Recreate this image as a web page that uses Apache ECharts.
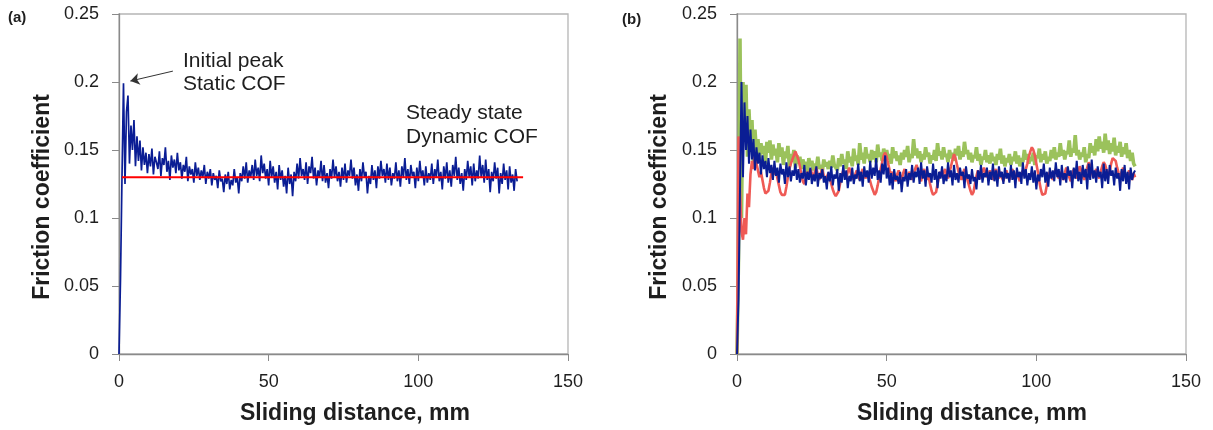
<!DOCTYPE html>
<html>
<head>
<meta charset="utf-8">
<script src="https://cdn.jsdelivr.net/npm/echarts@6/dist/echarts.min.js"></script>
<style>html,body{margin:0;padding:0;background:#fff}#c{width:1213px;height:430px}</style>
</head>
<body>
<div id="c"></div>
<script>
// Sliding distance (mm) for every sample
const distanceMm = [
0,0.5,1,1.5,2,2.5,3,3.5,4,4.5,5,5.5,6,6.5,7,7.5,8,8.5,9,9.5,10,
10.5,11,11.5,12,12.5,13,13.5,14,14.5,15,15.5,16,16.5,17,17.5,18,18.5,19,19.5,20,
20.5,21,21.5,22,22.5,23,23.5,24,24.5,25,25.5,26,26.5,27,27.5,28,28.5,29,29.5,30,
30.5,31,31.5,32,32.5,33,33.5,34,34.5,35,35.5,36,36.5,37,37.5,38,38.5,39,39.5,40,40.5,41,41.5,42,42.5,43,43.5,44,44.5,45,
45.5,46,46.5,47,47.5,48,48.5,49,49.5,50,50.5,51,51.5,52,52.5,53,53.5,54,54.5,55,55.5,56,56.5,57,57.5,58,58.5,59,59.5,60,
60.5,61,61.5,62,62.5,63,63.5,64,64.5,65,65.5,66,66.5,67,67.5,68,68.5,69,69.5,70,70.5,71,71.5,72,72.5,73,73.5,74,74.5,75,
75.5,76,76.5,77,77.5,78,78.5,79,79.5,80,80.5,81,81.5,82,82.5,83,83.5,84,84.5,85,85.5,86,86.5,87,87.5,88,88.5,89,89.5,90,
90.5,91,91.5,92,92.5,93,93.5,94,94.5,95,95.5,96,96.5,97,97.5,98,98.5,99,99.5,100,100.5,101,101.5,102,102.5,103,103.5,104,104.5,105,
105.5,106,106.5,107,107.5,108,108.5,109,109.5,110,110.5,111,111.5,112,112.5,113,113.5,114,114.5,115,115.5,116,116.5,117,117.5,118,118.5,119,119.5,120,
120.5,121,121.5,122,122.5,123,123.5,124,124.5,125,125.5,126,126.5,127,127.5,128,128.5,129,129.5,130,130.5,131,131.5,132,132.5,133
];

// (a) friction coefficient
const cofA = [
0,.055,.13,.199,.125,.178,.19,.14,.168,.15,.172,.138,.16,.142,.157,.135,.152,.139,.148,.133,.147,
.138,.151,.132,.145,.141,.136,.149,.131,.144,.139,.152,.134,.142,.128,.146,.137,.143,.133,.148,.135,
.141,.129,.139,.134,.145,.127,.138,.132,.136,.126,.141,.131,.137,.128,.135,.13,.139,.125,.134,.129,
.136,.124,.133,.128,.131,.122,.135,.127,.129,.119,.132,.125,.134,.121,.128,.124,.136,.126,.13,.118,.133,.127,.138,.129,.141,.126,.135,.13,.139,.128,
.143,.131,.137,.127,.146,.133,.14,.129,.136,.124,.142,.13,.138,.126,.134,.121,.139,.128,.135,.123,.131,.118,.137,.125,.132,.116,.134,.127,.14,.129,
.144,.131,.136,.128,.141,.125,.138,.133,.145,.129,.137,.124,.135,.13,.142,.127,.139,.126,.133,.122,.136,.129,.143,.13,.138,.127,.134,.123,.137,.128,
.14,.126,.135,.131,.143,.129,.137,.124,.132,.12,.136,.127,.141,.13,.134,.118,.131,.125,.139,.128,.135,.122,.138,.129,.142,.131,.136,.126,.14,.128,
.137,.124,.133,.129,.141,.127,.135,.123,.138,.13,.144,.128,.136,.125,.139,.131,.134,.122,.137,.127,.142,.13,.135,.124,.138,.126,.133,.128,.14,.125,
.136,.13,.143,.127,.134,.121,.138,.129,.141,.126,.135,.123,.139,.131,.145,.128,.137,.125,.133,.12,.136,.128,.142,.13,.138,.124,.14,.127,.135,.129,
.146,.13,.139,.126,.143,.128,.136,.119,.134,.127,.141,.129,.137,.118,.133,.125,.14,.128,.135,.121,.138,.126,.132,.12,.136,.127
];

// (a) steady-state dynamic COF reference line
const dynamicCofRange = [1, 135];
const dynamicCofValue = 0.13;

// (b) three repeat tests
const cofBGreen = [
0,.07,.232,.1,.2,.16,.198,.145,.18,.152,.172,.14,.165,.148,.158,.142,.155,.147,.153,.14,.156,
.148,.157,.143,.154,.146,.151,.141,.155,.145,.152,.139,.149,.144,.153,.138,.147,.142,.15,.137,.146,
.14,.145,.136,.143,.139,.141,.134,.144,.138,.142,.135,.14,.137,.145,.136,.139,.134,.143,.138,.141,
.136,.142,.137,.146,.139,.14,.135,.144,.138,.147,.14,.143,.136,.149,.141,.145,.138,.151,.142,.146,.139,.155,.143,.148,.14,.152,.144,.147,.141,.15,
.143,.149,.141,.154,.145,.148,.142,.151,.146,.15,.143,.147,.14,.152,.144,.149,.142,.146,.139,.148,.143,.15,.145,.153,.141,.147,.144,.158,.146,.151,
.144,.149,.141,.147,.143,.152,.145,.148,.14,.146,.143,.15,.142,.155,.146,.149,.143,.152,.145,.147,.141,.15,.144,.148,.142,.151,.146,.153,.143,.149,
.145,.156,.147,.15,.143,.148,.141,.146,.144,.152,.142,.147,.139,.145,.143,.15,.141,.146,.14,.148,.142,.145,.139,.147,.143,.151,.14,.146,.138,.144,
.141,.147,.139,.145,.142,.149,.14,.146,.138,.144,.141,.15,.143,.147,.14,.145,.142,.148,.139,.146,.144,.151,.141,.147,.143,.149,.14,.145,.142,.15,
.144,.152,.143,.148,.145,.155,.146,.15,.143,.149,.147,.157,.145,.151,.148,.161,.146,.15,.143,.148,.145,.152,.141,.147,.144,.155,.148,.153,.146,.158,
.149,.16,.151,.156,.148,.162,.15,.157,.147,.155,.149,.159,.146,.153,.148,.156,.145,.152,.147,.155,.144,.15,.142,.148,.14,.138
];
const cofBRed = [
0,.16,.12,.09,.084,.1,.088,.118,.108,.132,.142,.136,.148,.14,.135,.13,.134,.128,.122,.118,.117,
.12,.126,.133,.137,.132,.135,.129,.124,.119,.117,.118,.117,.123,.13,.136,.14,.143,.146,.149,.148,
.143,.138,.132,.127,.125,.129,.134,.131,.136,.133,.129,.134,.137,.132,.128,.133,.136,.131,.127,.13,
.133,.129,.125,.121,.118,.116,.117,.12,.126,.131,.135,.132,.129,.134,.137,.133,.13,.128,.132,.135,.131,.128,.133,.136,.132,.129,.134,.13,.127,.123,
.12,.117,.119,.124,.13,.136,.141,.146,.148,.145,.14,.135,.131,.134,.13,.127,.132,.135,.131,.128,.133,.136,.132,.129,.134,.131,.128,.132,.136,.139,
.135,.13,.127,.133,.136,.132,.128,.131,.125,.12,.117,.116,.119,.125,.131,.134,.13,.133,.136,.132,.129,.134,.138,.143,.147,.144,.139,.134,.131,.128,
.133,.136,.131,.128,.124,.12,.117,.119,.125,.131,.135,.132,.129,.134,.137,.133,.13,.132,.135,.131,.128,.133,.136,.132,.129,.134,.13,.127,.132,.135,
.131,.128,.133,.136,.132,.129,.134,.13,.127,.132,.135,.131,.136,.14,.145,.149,.152,.15,.146,.14,.134,.127,.121,.117,.116,.118,.124,.13,.134,.131,
.128,.133,.136,.132,.129,.134,.131,.128,.133,.137,.134,.13,.127,.132,.136,.133,.129,.134,.138,.135,.131,.128,.133,.137,.141,.138,.134,.13,.133,.136,
.132,.129,.134,.138,.141,.139,.135,.131,.134,.14,.144,.145,.142,.137,.133,.13,.134,.137,.133,.129,.132,.135,.131,.128,.133,.13
];
const cofBBlue = [
0,.04,.12,.2,.13,.185,.15,.175,.14,.165,.143,.158,.135,.152,.14,.148,.132,.146,.136,.142,.13,
.144,.133,.139,.128,.142,.131,.137,.126,.14,.132,.136,.125,.141,.13,.138,.127,.135,.131,.14,.128,
.136,.126,.133,.129,.139,.124,.134,.128,.137,.125,.132,.127,.138,.123,.133,.129,.136,.126,.131,.121,
.134,.127,.138,.124,.132,.129,.136,.12,.133,.126,.139,.128,.135,.122,.131,.127,.137,.125,.132,.129,.14,.127,.134,.123,.138,.13,.135,.126,.142,.129,
.137,.131,.144,.128,.135,.126,.14,.132,.146,.129,.137,.124,.133,.121,.136,.128,.131,.125,.134,.119,.13,.127,.136,.123,.133,.128,.139,.126,.134,.13,
.137,.125,.141,.129,.135,.123,.138,.13,.133,.126,.14,.128,.136,.122,.134,.129,.138,.125,.132,.127,.141,.13,.135,.124,.139,.128,.133,.126,.137,.131,
.134,.122,.138,.129,.132,.125,.136,.127,.13,.121,.135,.128,.139,.126,.133,.13,.137,.124,.134,.128,.14,.127,.135,.123,.138,.13,.134,.125,.137,.129,
.133,.126,.139,.128,.135,.122,.137,.13,.134,.125,.141,.129,.136,.124,.133,.128,.138,.126,.135,.121,.132,.127,.136,.13,.14,.126,.134,.123,.137,.129,
.135,.127,.141,.13,.136,.124,.139,.128,.133,.126,.138,.131,.135,.122,.137,.129,.142,.127,.134,.125,.139,.13,.136,.121,.14,.128,.143,.129,.135,.126,
.138,.13,.134,.122,.14,.127,.136,.125,.139,.131,.135,.124,.137,.129,.133,.12,.136,.127,.139,.125,.134,.121,.137,.128,.133,.135
];

// axis settings
const xRange = [0, 150], xStep = 50;
const yRange = [0, 0.25], yStep = 0.05;
// annotation arrow (data coordinates): from label to the initial peak
const arrowFrom = [18, 0.208], arrowTo = [3.8, 0.2007];

function pairs(arr) {
  const out = [];
  for (let i = 0; i < arr.length && i < distanceMm.length; i++) out.push([distanceMm[i], arr[i]]);
  return out;
}

const FONT = '"Liberation Sans", Arial, sans-serif';
const TXT = '#1e1e1e';

function xAxisCfg(gi) {
  return {
    type: 'value', gridIndex: gi, min: xRange[0], max: xRange[1], interval: xStep,
    axisLine: { show: true, onZero: false, lineStyle: { color: '#8a8a8a', width: 1.3 } },
    axisTick: { show: true, inside: false, length: 7, lineStyle: { color: '#8a8a8a' } },
    axisLabel: { margin: 19, fontSize: 18, color: TXT, fontFamily: FONT },
    splitLine: { show: false }
  };
}
function yAxisCfg(gi) {
  return {
    type: 'value', gridIndex: gi, min: yRange[0], max: yRange[1], interval: yStep,
    axisLine: { show: true, onZero: false, lineStyle: { color: '#8a8a8a', width: 1.3 } },
    axisTick: { show: true, inside: false, length: 7, lineStyle: { color: '#8a8a8a' } },
    axisLabel: { margin: 20, fontSize: 18, color: TXT, fontFamily: FONT },
    splitLine: { show: false }
  };
}

const chart = echarts.init(document.getElementById('c'), null, { renderer: 'canvas' });
const lineBase = { type: 'line', showSymbol: false, symbol: 'none', silent: true, animation: false, sampling: null };

chart.setOption({
  animation: false,
  backgroundColor: '#ffffff',
  grid: [
    { left: 119, top: 14, width: 449, height: 340, show: true, borderColor: '#b5b5b5', borderWidth: 1.3, backgroundColor: 'transparent' },
    { left: 737, top: 14, width: 449, height: 340, show: true, borderColor: '#b5b5b5', borderWidth: 1.3, backgroundColor: 'transparent' }
  ],
  xAxis: [xAxisCfg(0), xAxisCfg(1)],
  yAxis: [yAxisCfg(0), yAxisCfg(1)],
  series: [
    Object.assign({}, lineBase, {
      name: 'COF (a)', xAxisIndex: 0, yAxisIndex: 0, data: pairs(cofA),
      lineStyle: { color: '#0a1d94', width: 1.7 },
      markLine: {
        silent: true, symbol: ['none', 'arrow'], symbolSize: 9,
        label: { show: false },
        lineStyle: { color: '#333', width: 1, type: 'solid' },
        data: [[{ coord: arrowFrom }, { coord: arrowTo }]]
      }
    }),
    Object.assign({}, lineBase, {
      name: 'Dynamic COF', xAxisIndex: 0, yAxisIndex: 0,
      data: [[dynamicCofRange[0], dynamicCofValue], [dynamicCofRange[1], dynamicCofValue]],
      lineStyle: { color: '#ff0000', width: 2 }
    }),
    Object.assign({}, lineBase, {
      name: 'Test 1', xAxisIndex: 1, yAxisIndex: 1, data: pairs(cofBGreen),
      lineStyle: { color: '#9bc25c', width: 3.6 }
    }),
    Object.assign({}, lineBase, {
      name: 'Test 2', xAxisIndex: 1, yAxisIndex: 1, data: pairs(cofBRed),
      lineStyle: { color: '#ef5a55', width: 2.6 }
    }),
    Object.assign({}, lineBase, {
      name: 'Test 3', xAxisIndex: 1, yAxisIndex: 1, data: pairs(cofBBlue),
      lineStyle: { color: '#0a1d94', width: 2 }
    })
  ],
  graphic: [
    { type: 'text', left: 8, top: 10, style: { text: '(a)', font: 'bold 15px ' + FONT, fill: TXT } },
    { type: 'text', left: 622, top: 12, style: { text: '(b)', font: 'bold 15px ' + FONT, fill: TXT } },
    { type: 'text', x: 43, y: 197, rotation: Math.PI / 2, style: { text: 'Friction coefficient', font: 'bold 23px ' + FONT, fill: TXT, align: 'center', verticalAlign: 'middle' } },
    { type: 'text', x: 660, y: 197, rotation: Math.PI / 2, style: { text: 'Friction coefficient', font: 'bold 23px ' + FONT, fill: TXT, align: 'center', verticalAlign: 'middle' } },
    { type: 'text', x: 355, y: 414, style: { text: 'Sliding distance, mm', font: 'bold 23px ' + FONT, fill: TXT, align: 'center', verticalAlign: 'middle' } },
    { type: 'text', x: 972, y: 414, style: { text: 'Sliding distance, mm', font: 'bold 23px ' + FONT, fill: TXT, align: 'center', verticalAlign: 'middle' } },
    { type: 'text', x: 183, y: 61, style: { text: 'Initial peak', font: '21px ' + FONT, fill: TXT, align: 'left', verticalAlign: 'middle' } },
    { type: 'text', x: 183, y: 84, style: { text: 'Static COF', font: '21px ' + FONT, fill: TXT, align: 'left', verticalAlign: 'middle' } },
    { type: 'text', x: 406, y: 113, style: { text: 'Steady state', font: '21px ' + FONT, fill: TXT, align: 'left', verticalAlign: 'middle' } },
    { type: 'text', x: 406, y: 137, style: { text: 'Dynamic COF', font: '21px ' + FONT, fill: TXT, align: 'left', verticalAlign: 'middle' } }
  ]
});
</script>
</body>
</html>
